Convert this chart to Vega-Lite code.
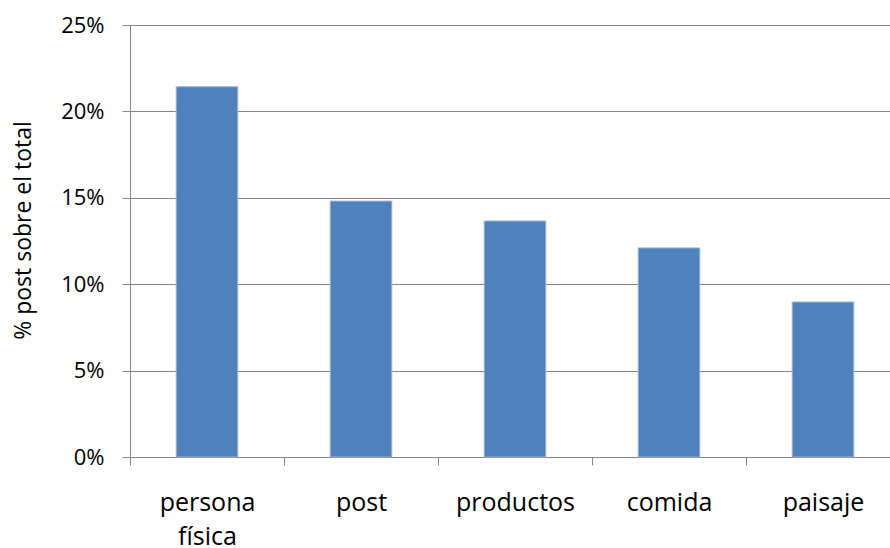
{
  "$schema": "https://vega.github.io/schema/vega-lite/v6.json",
  "autosize": {"type": "none"},
  "padding": {"left": 130, "top": 25, "right": 0, "bottom": 91},
  "width": 760,
  "height": 432,
  "background": "white",
  "config": {
    "font": "Open Sans",
    "view": {"stroke": null},
    "axis": {
      "labelFont": "Open Sans",
      "titleFont": "Open Sans",
      "labelColor": "#000000",
      "titleColor": "#000000",
      "domainColor": "#868686",
      "tickColor": "#868686",
      "gridColor": "#868686",
      "domainWidth": 1,
      "tickWidth": 1,
      "gridWidth": 1
    }
  },
  "data": {
    "values": [
      {"categoria": "persona física", "porcentaje": 0.2143},
      {"categoria": "post", "porcentaje": 0.1481},
      {"categoria": "productos", "porcentaje": 0.1366},
      {"categoria": "comida", "porcentaje": 0.1210},
      {"categoria": "paisaje", "porcentaje": 0.0897}
    ]
  },
  "mark": {
    "type": "bar",
    "color": "#4F81BD",
    "stroke": "#9DB5D8",
    "strokeWidth": 1,
    "width": {"band": 0.4}
  },
  "encoding": {
    "x": {
      "field": "categoria",
      "type": "nominal",
      "sort": null,
      "scale": {"range": [0, 770], "paddingInner": 0, "paddingOuter": 0},
      "axis": {
        "title": null,
        "labelAngle": 0,
        "labelFontSize": 25,
        "labelPadding": 25,
        "labelLineHeight": 34,
        "tickSize": 8,
        "tickBand": "extent",
        "grid": false,
        "labelExpr": "datum.label == 'persona física' ? ['persona', 'física'] : datum.label"
      }
    },
    "y": {
      "field": "porcentaje",
      "type": "quantitative",
      "scale": {"domain": [0, 0.25], "nice": false},
      "axis": {
        "title": "% post sobre el total",
        "titleFontSize": 23,
        "titleFontWeight": "normal",
        "titleX": -107,
        "titleY": 205,
        "titleAngle": -90,
        "titleAlign": "center",
        "titleBaseline": "middle",
        "values": [0, 0.05, 0.1, 0.15, 0.2, 0.25],
        "format": ".0%",
        "labelFontSize": 22,
        "labelPadding": 18,
        "tickSize": 8,
        "grid": true
      }
    }
  }
}
